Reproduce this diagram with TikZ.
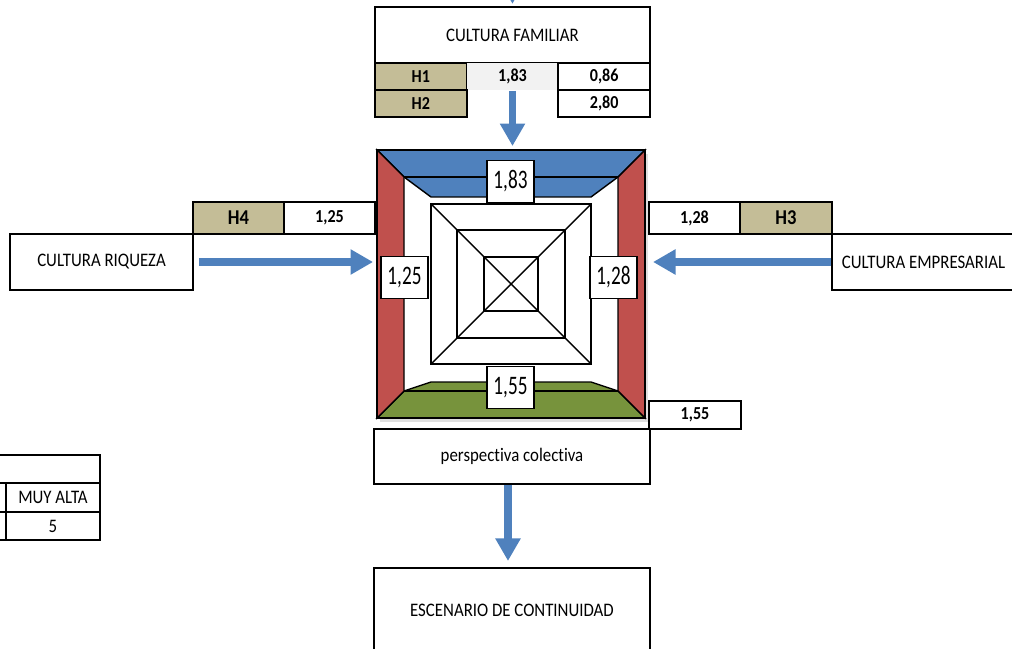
\documentclass[tikz,border=0pt]{standalone}
\usepackage{fontspec}
\setmainfont{Carlito}[FakeStretch=0.88, Ligatures=NoCommon]
\newfontfamily\narrowfont{Carlito}[FakeStretch=0.72]
\usetikzlibrary{arrows.meta,calc}

\definecolor{azul}{HTML}{4F81BD}
\definecolor{rojo}{HTML}{C0504D}
\definecolor{verde}{HTML}{77933C}
\definecolor{caqui}{HTML}{C4BD97}
\definecolor{grisclaro}{HTML}{F2F2F2}

\tikzset{
  caja/.style={draw, line width=1.4pt, inner sep=0pt, minimum width=6.875cm,
    minimum height=1.4cm, font=\fontsize{13.6}{15}\selectfont},
  celda/.style={draw, line width=1.4pt, inner sep=0pt, minimum width=2.29cm,
    minimum height=0.675cm, font=\bfseries\fontsize{13}{15}\selectfont},
  hcelda/.style={celda, fill=caqui},
  tabla/.style={draw, line width=1.2pt, inner sep=0pt, minimum width=2.35cm,
    minimum height=0.7cm, font=\fontsize{13.6}{15}\selectfont},
  valor/.style={draw, fill=white, line width=0.9pt, inner sep=0pt, minimum width=1.175cm,
    minimum height=1.05cm, font=\narrowfont\fontsize{19}{21}\selectfont},
  flecha/.style={draw=azul, line width=5pt, -{Triangle[width=17pt,length=16pt]}},
}

\begin{document}
\begin{tikzpicture}[x=0.025cm, y=-0.025cm]
    \useasboundingbox (0,0) rectangle (1012,649);

    % Piramide
    \coordinate (pc) at (511,284);
    \foreach \n/\h in {a/134,b/107,c/80,d/54,e/27} {
        \coordinate (\n-tl) at ($(pc)+(-\h,-\h)$);
        \coordinate (\n-tr) at ($(pc)+(\h,-\h)$);
        \coordinate (\n-br) at ($(pc)+(\h,\h)$);
        \coordinate (\n-bl) at ($(pc)+(-\h,\h)$);
    }
    \fill[black!12] ($(a-tl)+(3,4)$) rectangle ($(a-br)+(3,4)$);
    \fill[white] (a-tl) rectangle (a-br);
    \filldraw[fill=azul, line width=1pt] (a-tl) -- (a-tr) -- (b-tr) --
        ($(c-tr)+(0,-7)$) -- ($(c-tl)+(0,-7)$) -- (b-tl) -- cycle;
    \filldraw[fill=verde, line width=1pt] (a-bl) -- (a-br) -- (b-br) --
        ($(c-br)+(0,18)$) -- ($(c-bl)+(0,18)$) -- (b-bl) -- cycle;
    \filldraw[fill=rojo, line width=1pt] (a-tl) -- (b-tl) -- (b-bl) -- (a-bl) -- cycle;
    \filldraw[fill=rojo, line width=1pt] (a-tr) -- (b-tr) -- (b-br) -- (a-br) -- cycle;
    \draw[line width=1pt] (b-tl) -- (b-tr);
    \draw[line width=1pt] (b-bl) -- (b-br);
    \foreach \n in {c,d,e} {\draw[line width=1pt] (\n-tl) rectangle (\n-br);}
    \draw[line width=1pt] (c-tl) -- (c-br);
    \draw[line width=1pt] (c-tr) -- (c-bl);
    \draw[line width=1pt] (a-tl) rectangle (a-br);

    \node[valor] (v183) at (510.5,181.5) {1,83};
    \node[valor] (v125) at (404.5,277.5) {1,25};
    \node[valor] (v128) at (613.5,277.5) {1,28};
    \node[valor] (v155) at (510.5,387.5) {1,55};

    % Cultura familiar
    \node[caja] (familiar) at (512.5,35) {CULTURA FAMILIAR};
    \node[hcelda] (h1) at (420.8,76.5) {H1};
    \node[celda, draw=none, fill=grisclaro] (c183) at (512.5,76.5) {1,83};
    \node[celda] (c086) at (604.2,76.5) {0,86};
    \node[hcelda] (h2) at (420.8,103.5) {H2};
    \node[celda] (c280) at (604.2,103.5) {2,80};

    % Cultura riqueza
    \node[caja, minimum width=4.575cm] (riqueza) at (101.5,262) {CULTURA RIQUEZA};
    \node[hcelda, minimum height=0.8cm, font=\bfseries\fontsize{15}{17}\selectfont] (h4) at (238.5,218) {H4};
    \node[celda, minimum height=0.8cm] (c125) at (329.5,218) {1,25};

    % Cultura empresarial
    \node[caja, minimum width=4.575cm] (empresarial) at (923.5,262) {CULTURA EMPRESARIAL};
    \node[celda, minimum height=0.8cm] (c128) at (694.5,218) {1,28};
    \node[hcelda, minimum height=0.8cm, font=\bfseries\fontsize{15}{17}\selectfont] (h3) at (786,218) {H3};

    % Perspectiva colectiva
    \node[celda, minimum height=0.7cm] (c155) at (695,415) {1,55};
    \node[caja, minimum height=1.375cm] (colectiva) at (512,456.5) {perspectiva colectiva};
    \node[caja, minimum height=2.1cm] (escenario) at (512,610) {ESCENARIO DE CONTINUIDAD};

    % Escala
    \node[tabla, minimum width=2.625cm] (escala) at (47.5,469) {};
    \node[tabla, minimum width=0.275cm] (vacio1) at (0.5,497.5) {};
    \node[tabla, minimum height=0.725cm] (muyalta) at (53,497.5) {MUY ALTA};
    \node[tabla, minimum width=0.275cm] (vacio2) at (0.5,526) {};
    \node[tabla] (cinco) at (53,526) {5};

    % Flechas
    \coordinate (arriba) at (512,-40);
    \draw[flecha, shorten >=1.5pt] (arriba) -- (familiar.north);
    \draw[flecha, shorten >=2.8pt] (c183.south) -- (c183.south |- a-tl);
    \draw[flecha, shorten <=3.5pt, shorten >=2.8pt] (riqueza.east) -- (riqueza.east -| a-tl);
    \draw[flecha, shorten >=5.7pt] (empresarial.west) -- (empresarial.west -| a-tr);
    \draw[flecha, shorten >=4.3pt] ([xshift=-0.1cm]colectiva.south) -- ([xshift=-0.1cm]escenario.north);
\end{tikzpicture}
\end{document}
